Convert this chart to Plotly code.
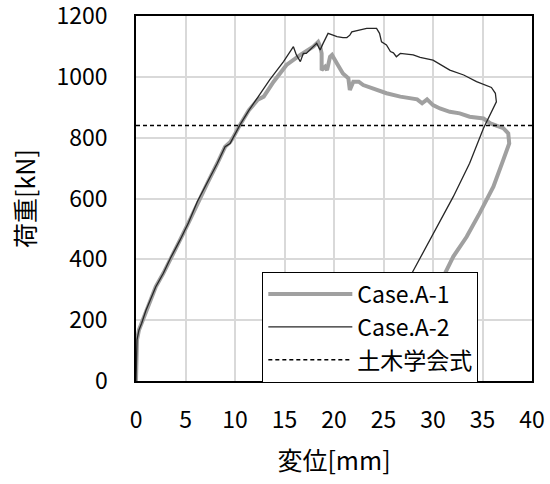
import plotly.graph_objects as go

# Case.A-1 (gray, thick)
case_a1_x = [0, 0.05, 0.1, 0.3, 0.57, 1.0, 1.41, 2.0, 2.76, 3.5, 4.44, 5.3, 6.2, 7.2, 8.2,
             9.0, 9.5, 9.8, 10.5, 11.4, 12.3, 12.9, 13.9, 15.2, 16.6, 17.9, 18.4, 18.6, 18.75,
             18.75, 19.1, 19.3, 19.6, 19.8, 20.3, 20.9, 21.45, 21.6, 21.95, 22.5, 22.95, 24.0,
             25.3, 26.7, 28.4, 28.9, 29.4, 30.0, 30.7, 31.7, 32.7, 33.7, 35.1, 35.8, 37.1,
             37.6, 37.7, 37.1, 36.1, 34.7, 33.4, 32.05, 31.05, 29.5, 28.0, 26.0, 24.3, 22.8, 21.3]
case_a1_y = [0, 60, 135, 168, 190, 232, 266, 310, 354, 405, 463, 520, 585, 650, 715,
             770, 785, 800, 842, 890, 925, 935, 984, 1039, 1072, 1099, 1115, 1100, 1077,
             1022, 1033, 1022, 1066, 1072, 1044, 1011, 995, 957, 984, 984, 973, 962,
             946, 935, 926, 913, 926, 907, 896, 885, 880, 869, 863, 847, 831,
             814, 781, 727, 639, 551, 474, 409, 343, 280, 215, 140, 75, 20, 0]

# Case.A-2 (black, thin)
case_a2_x = [0, 0.05, 0.1, 0.3, 0.57, 1.0, 1.41, 2.0, 2.76, 3.5, 4.44, 5.3, 6.2, 7.2, 8.2,
             9.0, 9.5, 10.5, 11.4, 12.35, 13.5, 14.9, 15.9, 16.2, 16.6, 16.9, 17.2, 18.25,
             18.6, 18.9, 19.4, 19.9, 20.3, 20.9, 21.3, 21.6, 21.8, 23.3, 24.3, 24.6, 24.8,
             25.3, 25.7, 26.0, 26.3, 26.7, 28.0, 28.7, 30.0, 31.7, 33.1, 34.4, 35.9, 36.3,
             36.4, 35.1, 33.7, 32.05, 30.7, 27.5, 25.2, 23.0, 21.0, 19.6, 19.4]
case_a2_y = [0, 60, 135, 168, 190, 232, 266, 310, 354, 405, 463, 520, 590, 650, 715,
             770, 781, 842, 890, 935, 990, 1050, 1099, 1072, 1050, 1077, 1077, 1110,
             1088, 1110, 1143, 1137, 1132, 1129, 1129, 1137, 1148, 1159, 1159, 1143, 1115,
             1105, 1083, 1079, 1066, 1077, 1072, 1064, 1055, 1022, 1006, 984, 965, 946,
             918, 831, 716, 606, 524, 332, 230, 146, 70, 3, 0]

# 土木学会式 (design value)
jsce_x = [0, 40]
jsce_y = [840, 840]

x_ticks = [0, 5, 10, 15, 20, 25, 30, 35, 40]
y_ticks = [0, 200, 400, 600, 800, 1000, 1200]

FONT = "Noto Sans CJK JP"

fig = go.Figure()
fig.add_trace(go.Scatter(x=case_a1_x, y=case_a1_y, mode="lines", name="Case.A-1",
                         line=dict(color="#a0a0a0", width=4)))
fig.add_trace(go.Scatter(x=case_a2_x, y=case_a2_y, mode="lines", name="Case.A-2",
                         line=dict(color="#262626", width=1.3)))
fig.add_trace(go.Scatter(x=jsce_x, y=jsce_y, mode="lines", name="土木学会式",
                         line=dict(color="black", width=1.5, dash="4px,3px")))

fig.update_layout(
    width=550, height=484,
    margin=dict(l=136, r=18, t=16, b=103, autoexpand=False),
    paper_bgcolor="white", plot_bgcolor="white",
    font=dict(family=FONT, size=23, color="black"),
    legend=dict(x=0.319, y=0.3, xanchor="left", yanchor="top",
                bgcolor="white", bordercolor="black", borderwidth=1,
                font=dict(size=23), itemwidth=84, tracegroupgap=0),
)
fig.update_xaxes(range=[0, 40], tickvals=x_ticks, showgrid=True, gridcolor="#d9d9d9", gridwidth=2,
                 showline=True, linecolor="black", linewidth=1.5, mirror=True, zeroline=False,
                 ticks="", ticklabelstandoff=18, automargin=False, ticklabeloverflow="allow",
                 title=dict(text="変位[mm]", font=dict(size=25), standoff=18))
fig.update_yaxes(range=[0, 1200], tickvals=y_ticks, showgrid=True, gridcolor="#d9d9d9", gridwidth=2,
                 showline=True, linecolor="black", linewidth=1.5, mirror=True, zeroline=False,
                 ticks="", ticklabelstandoff=22, automargin=False, ticklabeloverflow="allow",
                 title=dict(text="荷重[kN]", font=dict(size=25), standoff=14))

# page body has a default 8px margin; drop it so the figure sits at the window corner
fig.write_html("out.html", config={"displayModeBar": False},
               post_script="document.body.style.margin='0';")
